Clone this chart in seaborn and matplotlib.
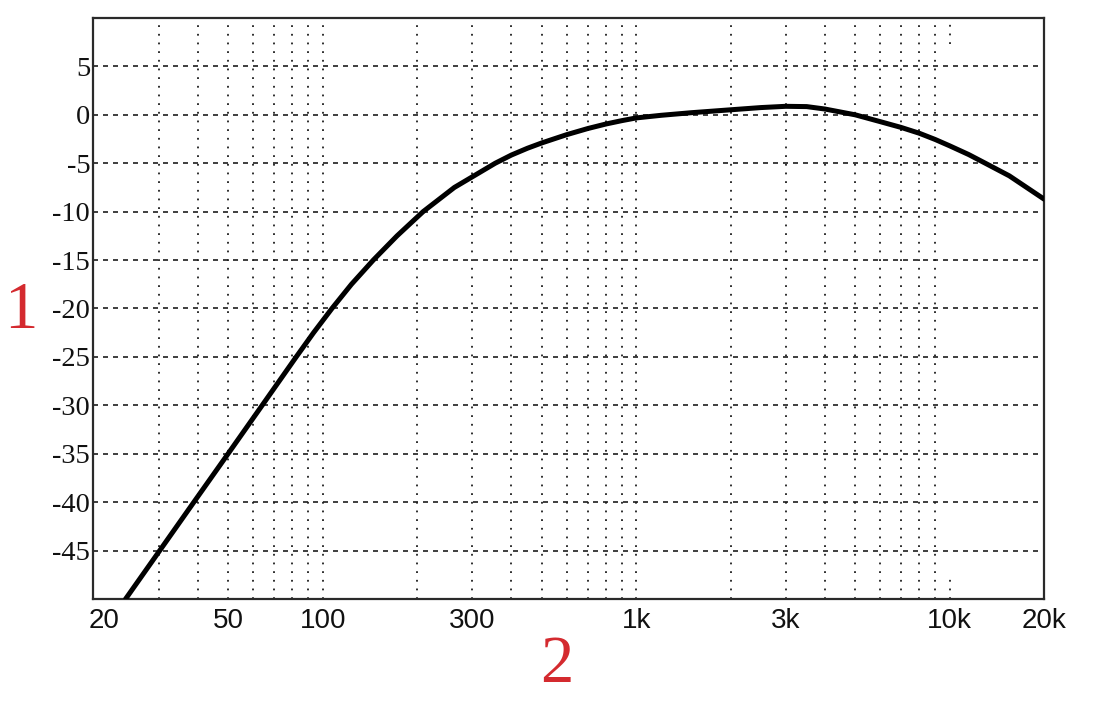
import matplotlib
matplotlib.use("Agg")
import matplotlib.pyplot as plt
import seaborn as sns
import pandas as pd
from matplotlib.ticker import FixedLocator, FixedFormatter, NullLocator

# ---- data ----
freq_hz = [23.5, 30.2, 38.8, 49.9, 64.1, 82.3, 93.5, 107, 123.5, 145, 172.6, 209, 263,
           355, 400, 450, 500, 600, 700, 800, 900, 1000, 1200, 1500, 2000, 2500,
           3000, 3500, 4000, 5000, 6000, 7000, 8000, 9000, 10000, 11500, 13000,
           15500, 20000]
level_db = [-50, -45, -40, -35, -30, -25, -22.5, -20, -17.5, -15, -12.5, -10, -7.5,
            -5.0, -4.15, -3.45, -2.9, -2.05, -1.42, -0.95, -0.6, -0.32, -0.05, 0.22,
            0.52, 0.75, 0.88, 0.85, 0.6, 0.0, -0.7, -1.3, -1.9, -2.55, -3.2, -4.1,
            -5.0, -6.3, -8.7]

x_ticks = [20, 50, 100, 300, 1000, 3000, 10000, 20000]
x_tick_labels = ["20", "50", "100", "300", "1k", "3k", "10k", "20k"]
y_ticks = [5, 0, -5, -10, -15, -20, -25, -30, -35, -40, -45]
y_tick_labels = ["5", "0", "-5", "-10", "-15", "-20", "-25", "-30", "-35", "-40", "-45"]
x_grid_full = [30, 40, 50, 60, 70, 80, 90, 100, 200, 300, 400, 500, 600, 700,
               800, 900, 1000, 2000, 3000, 4000, 5000, 6000, 7000, 8000, 9000]
x_grid_partial = [10000]
y_label_text = "1"
x_label_text = "2"

sns.set_theme(style="white")
plt.rcParams["font.family"] = ["Liberation Sans", "DejaVu Sans"]

df = pd.DataFrame({"freq": freq_hz, "level": level_db})

fig = plt.figure(figsize=(11.01, 7.18), dpi=100)
ax = fig.add_axes([93 / 1101, 1 - 599 / 718, (1044 - 93) / 1101, (599 - 18) / 718])

grid_col = "#1e1e1e"
dot = (0, (1, 3.8))
for f in x_grid_full:
    ax.axvline(f, color=grid_col, lw=1.3, linestyle=dot, zorder=1)
for f in x_grid_partial:
    ax.axvline(f, ymin=0.955, ymax=1.0, color=grid_col, lw=1.3, linestyle=dot, zorder=1)
    ax.axvline(f, ymin=0.0, ymax=0.035, color=grid_col, lw=1.3, linestyle=dot, zorder=1)
for v in y_ticks:
    ax.axhline(v, color=grid_col, lw=1.2, linestyle=(0, (3.0, 3.0)), zorder=1)

sns.lineplot(data=df, x="freq", y="level", ax=ax, color="black", lw=3.6,
             sort=True, zorder=3, solid_joinstyle="round", solid_capstyle="round")

ax.set_xscale("log")
ax.set_xlim(18.5, 20000)
ax.set_ylim(-50, 10)

ax.xaxis.set_major_locator(FixedLocator(x_ticks))
ax.xaxis.set_major_formatter(FixedFormatter(x_tick_labels))
ax.xaxis.set_minor_locator(NullLocator())
ax.yaxis.set_major_locator(FixedLocator(y_ticks))
ax.yaxis.set_major_formatter(FixedFormatter(y_tick_labels))
ax.yaxis.set_minor_locator(NullLocator())

ax.tick_params(axis="x", length=0, pad=6.5, labelsize=20, labelcolor="#111111",
               labelfontfamily="Liberation Sans")
ax.tick_params(axis="y", length=0, pad=2, labelsize=20.5, labelcolor="#111111",
               labelfontfamily="Liberation Serif")
ax.grid(False)

for s in ax.spines.values():
    s.set_color("#2a2a2a")
    s.set_linewidth(1.6)
    s.set_visible(True)

red = "#d42a2f"
ax.set_ylabel(y_label_text, rotation=0, fontsize=48, color=red,
              fontfamily="Liberation Serif", va="center", ha="center")
ax.yaxis.set_label_coords(-0.0757, 0.495)
ax.set_xlabel(x_label_text, fontsize=48, color=red,
              fontfamily="Liberation Serif", va="center", ha="center")
ax.xaxis.set_label_coords(0.488, -0.114)

fig.savefig("out.png", dpi=100, facecolor="white")
